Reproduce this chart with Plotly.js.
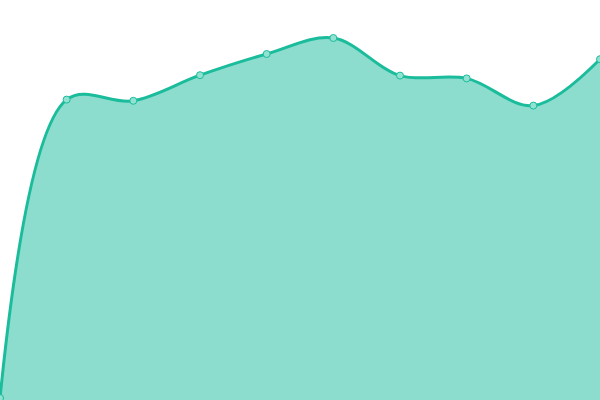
<!DOCTYPE html>
<html>
<head>
<meta charset="utf-8">
<script src="https://cdn.plot.ly/plotly-3.0.1.min.js"></script>
<style>
  html, body { margin: 0; padding: 0; background: #fff; }
  #plot { width: 600px; height: 400px; }
</style>
</head>
<body>
<div id="plot"></div>
<script>
var xs = [0, 1, 2, 3, 4, 5, 6, 7, 8, 9];
var values = [0.5, 75.1, 74.8, 81.2, 86.5, 90.5, 81.1, 80.4, 73.6, 85.2];

var trace = {
  type: 'scatter',
  mode: 'lines+markers',
  x: xs,
  y: values,
  fill: 'tozeroy',
  fillcolor: 'rgba(26,188,156,0.5)',
  line: { color: '#1abc9c', width: 3, shape: 'spline', smoothing: 1 },
  marker: { size: 7, color: '#92e2d2', line: { color: '#1abc9c', width: 1 } },
  hoverinfo: 'none'
};

var layout = {
  width: 600,
  height: 400,
  margin: { l: 0, r: 0, t: 0, b: 0 },
  paper_bgcolor: '#fff',
  plot_bgcolor: '#fff',
  showlegend: false,
  xaxis: { range: [0, 9], visible: false, fixedrange: true },
  yaxis: { range: [0, 100], visible: false, fixedrange: true }
};

Plotly.newPlot('plot', [trace], layout, { displayModeBar: false, staticPlot: true });
</script>
</body>
</html>
